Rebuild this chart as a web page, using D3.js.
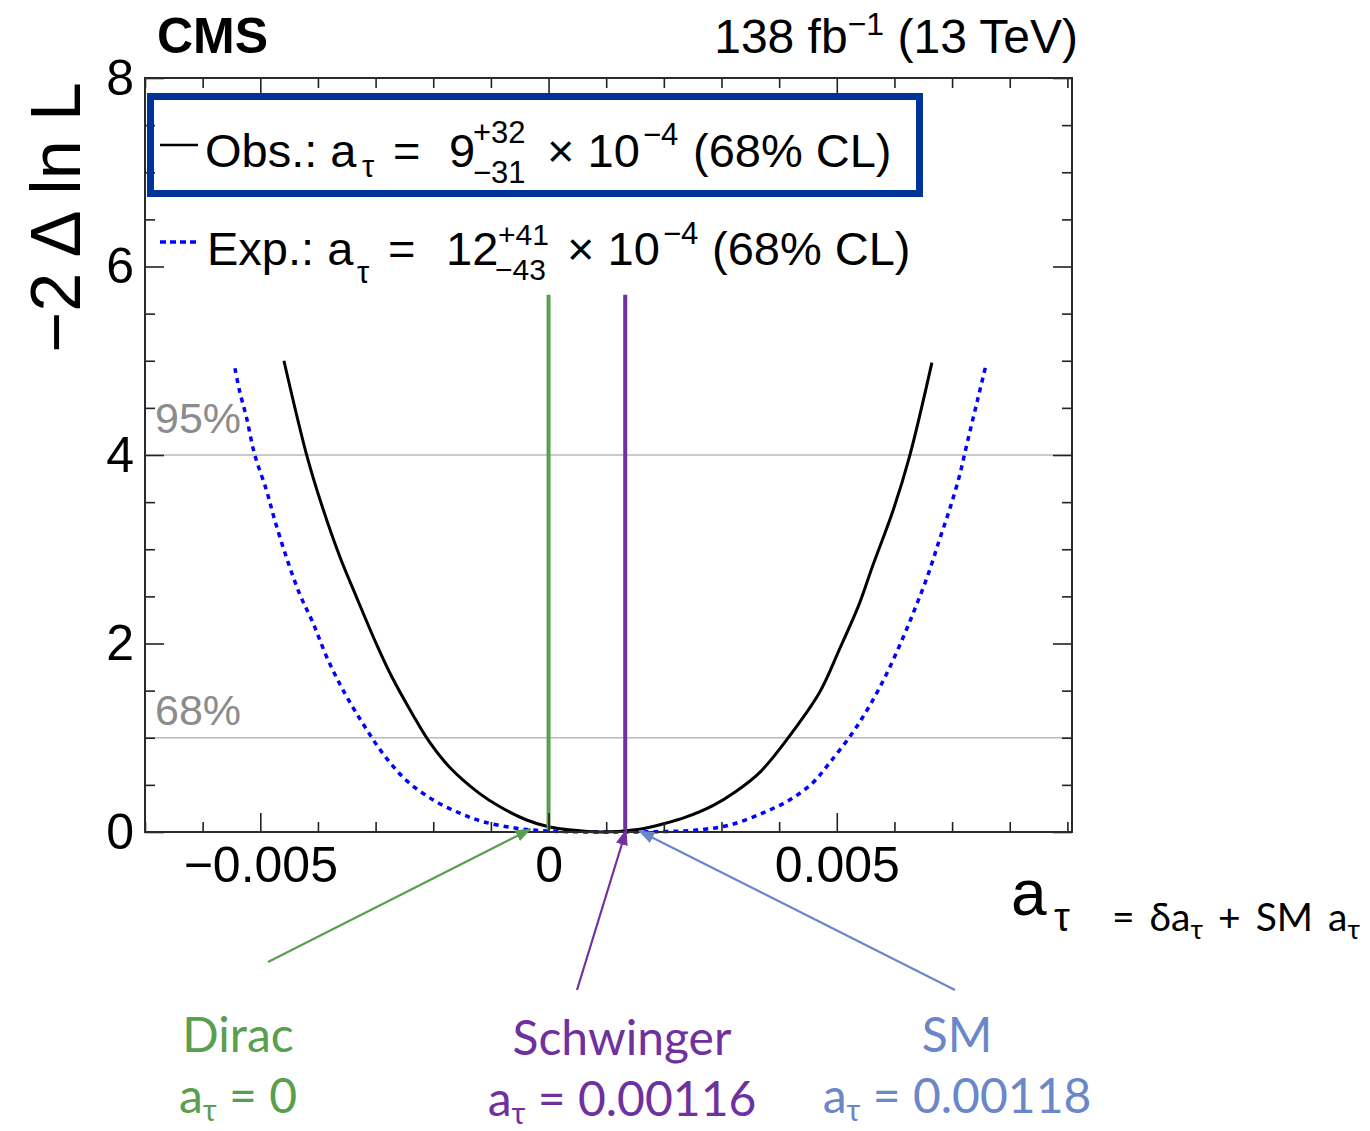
<!DOCTYPE html>
<html>
<head>
<meta charset="utf-8">
<script src="https://cdn.jsdelivr.net/npm/d3@7"></script>
<style>
  body { margin: 0; background: #fff; }
  svg text { font-family: "Liberation Sans", Arial, Helvetica, sans-serif; }
  svg text.ppt { font-family: Lato, "Open Sans", sans-serif; }
</style>
</head>
<body>
<svg id="chart" width="1370" height="1131"></svg>
<script>
// likelihood scan
const obsX = [-0.00459, -0.00420, -0.00394, -0.00362, -0.00333, -0.00299, -0.00273, -0.00235, -0.00206, -0.00172,
              -0.00120, -0.00085, -0.00039, 0.00000, 0.00040, 0.00090, 0.00158, 0.00198, 0.00239, 0.00285,
              0.00325, 0.00366, 0.00412, 0.00470, 0.00504, 0.00539, 0.00562, 0.00597, 0.00626, 0.00665];
const obsY = [5.00, 4.01, 3.48, 2.92, 2.49, 2.00, 1.66, 1.24, 0.95, 0.69,
              0.41, 0.27, 0.13, 0.056, 0.02, 0.00, 0.03, 0.085, 0.16, 0.28,
              0.43, 0.63, 0.97, 1.48, 1.93, 2.42, 2.82, 3.40, 3.98, 4.98];

const expX = [-0.00544, -0.00536, -0.00524, -0.00510, -0.00489, -0.00475, -0.00455, -0.00432, -0.00408, -0.00385,
              -0.00356, -0.00322, -0.00287, -0.00247, -0.00200, -0.00154, -0.00114, -0.00056, 0.00000, 0.00120,
              0.00198, 0.00256, 0.00314, 0.00371, 0.00418, 0.00458, 0.00487, 0.00527, 0.00556, 0.00585,
              0.00614, 0.00637, 0.00660, 0.00678, 0.00695, 0.00712, 0.00727, 0.00744, 0.00759];
const expY = [4.92, 4.68, 4.40, 4.01, 3.62, 3.31, 2.92, 2.53, 2.21, 1.86,
              1.50, 1.15, 0.83, 0.55, 0.34, 0.20, 0.11, 0.04, 0.01, 0.00,
              0.005, 0.02, 0.074, 0.20, 0.34, 0.52, 0.73, 1.05, 1.33, 1.66,
              2.05, 2.39, 2.76, 3.10, 3.41, 3.76, 4.15, 4.58, 4.96];

const xMajor = [-0.005, 0, 0.005];
const yMajor = [0, 2, 4, 6, 8];
const clLevels = [1, 4];
const clLabels = ["68%", "95%"];

// vertical reference lines as drawn (Dirac, Schwinger) and their top
const refLineX = [0, 0.00133];
const refLineTop = 5.7;
const refNames = ["Dirac", "Schwinger", "SM"];
const refValues = ["0", "0.00116", "0.00118"];
const refColors = ["#5a9e4f", "#7030a0", "#6b87c9"];

const svg = d3.select("#chart");

const x = d3.scaleLinear().domain([-0.007, 0.00908]).range([145, 1072]);
const y = d3.scaleLinear().domain([0, 8]).range([832, 78]);

// confidence level lines
svg.selectAll(".cl")
    .data(clLevels)
    .enter()
    .append("line")
    .attr("x1", x.range()[0])
    .attr("x2", x.range()[1])
    .attr("y1", d => y(d))
    .attr("y2", d => y(d))
    .attr("stroke", "#b9b9b9")
    .attr("stroke-width", 1.6);

svg.selectAll(".cl-label")
    .data(clLevels)
    .enter()
    .append("text")
    .attr("x", 155)
    .attr("y", d => y(d) - (d > 2 ? 22 : 13))
    .attr("fill", "#8c8c8c")
    .style("font-size", "43px")
    .text((d, i) => clLabels[i]);

const line = d3.line()
    .x(d => x(d[0]))
    .y(d => y(d[1]))
    .curve(d3.curveCatmullRom.alpha(0.5));

svg.append("path")
    .attr("d", line(expX.map((v, i) => [v, expY[i]])))
    .attr("fill", "none")
    .attr("stroke", "#0000ff")
    .attr("stroke-width", 3.5)
    .attr("stroke-dasharray", "5,5");

svg.append("path")
    .attr("d", line(obsX.map((v, i) => [v, obsY[i]])))
    .attr("fill", "none")
    .attr("stroke", "#000")
    .attr("stroke-width", 3);

// Dirac / Schwinger lines
svg.selectAll(".ref")
    .data(refLineX)
    .enter()
    .append("line")
    .attr("x1", d => x(d))
    .attr("x2", d => x(d))
    .attr("y1", y(0) - 2)
    .attr("y2", y(refLineTop))
    .attr("stroke", (d, i) => refColors[i])
    .attr("stroke-width", 4);

// axes, ROOT style: ticks inward on all four sides
const xMinor = d3.range(-7, 10).map(i => i / 1000).filter(v => !xMajor.some(m => Math.abs(m - v) < 1e-9));
const yMinor = d3.range(0, 16.5).map(i => i / 2).filter(v => !yMajor.includes(v));
const fmtX = d => d === 0 ? "0" : d3.format(".3f")(d);

function addAxis(axis, transform) {
    const g = svg.append("g").attr("transform", transform).call(axis);
    g.select(".domain").remove();
    g.selectAll(".tick line").attr("stroke", "#222").attr("stroke-width", 1.6);
    g.selectAll("text").style("font-size", "50px").attr("fill", "#000")
        .style("font-family", "'Liberation Sans', Arial, sans-serif");
    return g;
}

addAxis(d3.axisBottom(x).tickValues(xMajor).tickSize(-19).tickPadding(14).tickFormat(fmtX), `translate(0,${y(0)})`);
addAxis(d3.axisBottom(x).tickValues(xMinor).tickSize(-10).tickFormat(""), `translate(0,${y(0)})`);
addAxis(d3.axisTop(x).tickValues(xMajor).tickSize(-19).tickFormat(""), `translate(0,${y(8)})`);
addAxis(d3.axisTop(x).tickValues(xMinor).tickSize(-10).tickFormat(""), `translate(0,${y(8)})`);
addAxis(d3.axisLeft(y).tickValues(yMajor).tickSize(-19).tickPadding(11).tickFormat(d3.format("d")), `translate(${x.range()[0]},0)`);
addAxis(d3.axisLeft(y).tickValues(yMinor).tickSize(-10).tickFormat(""), `translate(${x.range()[0]},0)`);
addAxis(d3.axisRight(y).tickValues(yMajor).tickSize(-19).tickFormat(""), `translate(${x.range()[1]},0)`);
addAxis(d3.axisRight(y).tickValues(yMinor).tickSize(-10).tickFormat(""), `translate(${x.range()[1]},0)`);

svg.append("rect")
    .attr("x", x.range()[0])
    .attr("y", y(8))
    .attr("width", x.range()[1] - x.range()[0])
    .attr("height", y(0) - y(8))
    .attr("fill", "none")
    .attr("stroke", "#2a2a2a")
    .attr("stroke-width", 2);

// titles
const txt = (px, py, str, size, anchor) => svg.append("text")
    .attr("x", px).attr("y", py)
    .attr("text-anchor", anchor || "start")
    .style("font-size", size + "px")
    .text(str);

txt(157, 53, "CMS", 50).style("font-weight", "bold");

const lumi = svg.append("text").attr("x", 1078).attr("y", 53).attr("text-anchor", "end").style("font-size", "48px");
lumi.append("tspan").text("138 fb");
lumi.append("tspan").attr("dy", -18).style("font-size", "32px").text("−1");
lumi.append("tspan").attr("dy", 18).text(" (13 TeV)");

svg.append("text")
    .attr("transform", "translate(80,82) rotate(-90)")
    .attr("text-anchor", "end")
    .style("font-size", "70px")
    .text("−2 Δ ln L");

txt(1011, 915, "a", 64);
txt(1054, 931, "τ", 40);

const eq = svg.append("text").attr("class", "ppt").attr("x", 1112).attr("y", 931)
    .style("font-size", "39px").style("word-spacing", "5px");
eq.append("tspan").text("= δa");
eq.append("tspan").attr("dy", 8).style("font-size", "27px").text("τ");
eq.append("tspan").attr("dy", -8).text(" + SM a");
eq.append("tspan").attr("dy", 8).style("font-size", "27px").text("τ");

// legend
svg.append("rect")
    .attr("x", 150.5).attr("y", 96.5)
    .attr("width", 769).attr("height", 97)
    .attr("fill", "none")
    .attr("stroke", "#003399")
    .attr("stroke-width", 7);

svg.append("line").attr("x1", 160).attr("x2", 198).attr("y1", 145).attr("y2", 145)
    .attr("stroke", "#000").attr("stroke-width", 2.5);
svg.append("line").attr("x1", 160).attr("x2", 198).attr("y1", 242).attr("y2", 242)
    .attr("stroke", "#0000ff").attr("stroke-width", 3.5).attr("stroke-dasharray", "6,4");

txt(205, 167, "Obs.: a", 47);
txt(362, 177, "τ", 31);
txt(393, 167, "=", 47);
txt(449, 167, "9", 47);
txt(473, 143, "+32", 31);
txt(473, 183, "−31", 31);
txt(547, 167, "× 10", 47);
txt(643, 145, "−4", 31);
txt(693, 167, "(68% CL)", 47);

txt(207, 265, "Exp.: a", 47);
txt(357, 283, "τ", 31);
txt(388, 265, "=", 47);
txt(446, 265, "12", 47);
txt(498, 245, "+41", 30);
txt(495, 280, "−43", 30);
txt(567, 265, "× 10", 47);
txt(663, 244, "−4", 31);
txt(712, 265, "(68% CL)", 47);

// annotation arrows and labels
const defs = svg.append("defs");
refColors.forEach((c, i) => {
    defs.append("marker")
        .attr("id", "head" + i)
        .attr("viewBox", "0 0 16 12")
        .attr("refX", 15).attr("refY", 6)
        .attr("markerWidth", 16).attr("markerHeight", 12)
        .attr("markerUnits", "userSpaceOnUse")
        .attr("orient", "auto")
        .append("path")
        .attr("d", "M0,0 L16,6 L0,12 z")
        .attr("fill", c);
});

const arrowTails = [[268, 962], [577, 990], [955, 990]];
const arrowTips = [[x(refLineX[0]) - 18, y(0) - 3], [x(refLineX[1]) + 1, y(0) - 2], [x(refLineX[1]) + 14, y(0) - 1]];
const labelCenters = [238, 622, 957];

arrowTails.forEach((t, i) => {
    svg.append("line")
        .attr("x1", t[0]).attr("y1", t[1])
        .attr("x2", arrowTips[i][0]).attr("y2", arrowTips[i][1])
        .attr("stroke", refColors[i])
        .attr("stroke-width", 2.2)
        .attr("marker-end", `url(#head${i})`);

    svg.append("text")
        .attr("class", "ppt")
        .attr("x", labelCenters[i]).attr("y", i === 1 ? 1055 : 1052)
        .attr("text-anchor", "middle")
        .attr("fill", refColors[i])
        .style("font-size", "48px")
        .text(refNames[i]);

    const v = svg.append("text")
        .attr("class", "ppt")
        .attr("x", labelCenters[i]).attr("y", i === 1 ? 1116 : 1113)
        .attr("text-anchor", "middle")
        .attr("fill", refColors[i])
        .style("font-size", "48px");
    v.append("tspan").text("a");
    v.append("tspan").attr("dy", 8).style("font-size", "30px").text("τ");
    v.append("tspan").attr("dy", -8).text(" = " + refValues[i]);
});
</script>
</body>
</html>
